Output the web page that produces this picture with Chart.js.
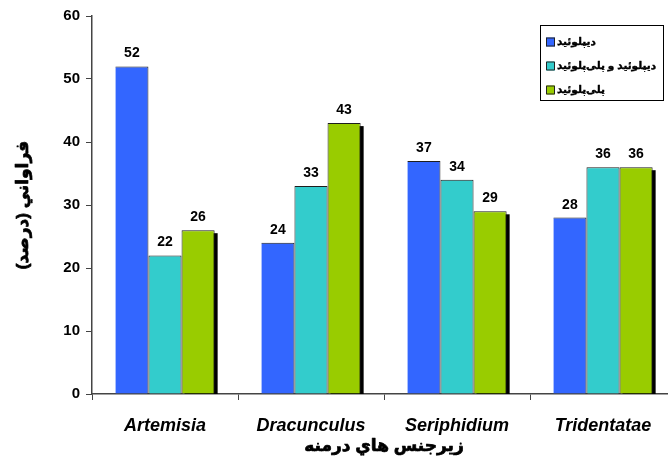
<!DOCTYPE html>
<html>
<head>
<meta charset="utf-8">
<script src="https://cdn.jsdelivr.net/npm/chart.js@4/dist/chart.umd.min.js"></script>
<style>
  html, body { margin: 0; padding: 0; background: #fff; overflow: hidden; width: 668px; height: 467px; }
  #wrap { width: 700px; height: 467px; position: relative; }
</style>
</head>
<body>
<div id="wrap"><canvas id="c" width="700" height="467"></canvas></div>
<script>
// Subgenera and frequency (%) of each ploidy group
const categories = ['Artemisia', 'Dracunculus', 'Seriphidium', 'Tridentatae'];
const seriesNames = ['دیپلوئید', 'دیپلوئید و پلی‌پلوئید', 'پلی‌پلوئید'];
const diploid = [52, 24, 37, 28];
const diploidAndPolyploid = [22, 33, 34, 36];
const polyploid = [26, 43, 29, 36];
const yTickValues = [0, 10, 20, 30, 40, 50, 60];
const yTitle = 'فراواني (درصد)';
const xTitle = 'زيرجنس هاي درمنه';

const colors = ['#3366FF', '#33CCCC', '#99CC00'];
const FONT = "'Liberation Sans', Arial, 'DejaVu Sans', sans-serif";
const RLM = '\u200F';

// Heavier Persian text: fill plus a thin stroke of the same colour
function boldText(ctx, text, x, y, strokeW) {
  ctx.lineJoin = 'round';
  ctx.lineWidth = strokeW;
  ctx.strokeStyle = '#000';
  ctx.strokeText(text, x, y);
  ctx.fillText(text, x, y);
}

// Black drop shadow on the right-hand series
const barShadow = {
  id: 'barShadow',
  beforeDatasetsDraw(chart) {
    const { ctx, chartArea } = chart;
    const last = chart.data.datasets.length - 1;
    ctx.save();
    ctx.beginPath();
    ctx.rect(chartArea.left, chartArea.top, chartArea.right - chartArea.left, chartArea.bottom - chartArea.top);
    ctx.clip();
    ctx.fillStyle = '#000';
    chart.getDatasetMeta(last).data.forEach(bar => {
      const { x, y, base, width } = bar.getProps(['x', 'y', 'base', 'width'], true);
      const off = 3;
      ctx.fillRect(x - width / 2 + off, y + off, width, base - y);
    });
    ctx.restore();
  }
};

// Value labels above bars
const valueLabels = {
  id: 'valueLabels',
  afterDatasetsDraw(chart) {
    const { ctx } = chart;
    ctx.save();
    ctx.fillStyle = '#000';
    ctx.font = 'bold 14px ' + FONT;
    ctx.textAlign = 'center';
    ctx.textBaseline = 'alphabetic';
    chart.data.datasets.forEach((ds, i) => {
      chart.getDatasetMeta(i).data.forEach((bar, j) => {
        ctx.fillText(String(ds.data[j]), bar.x, bar.y - 9);
      });
    });
    ctx.restore();
  }
};

// Axis titles
const axisTitles = {
  id: 'axisTitles',
  afterDraw(chart) {
    const { ctx, chartArea } = chart;
    ctx.save();
    ctx.fillStyle = '#000';
    ctx.font = 'bold 17px ' + FONT;
    ctx.textAlign = 'center';
    ctx.textBaseline = 'middle';
    boldText(ctx, RLM + xTitle + RLM, (chartArea.left + chartArea.right) / 2, 446, 0.7);
    ctx.translate(23, (chartArea.top + chartArea.bottom) / 2);
    ctx.rotate(-Math.PI / 2);
    boldText(ctx, RLM + yTitle + RLM, 0, 0, 0.7);
    ctx.restore();
  }
};

// Framed legend in the upper right corner
const boxLegend = {
  id: 'boxLegend',
  afterDraw(chart) {
    const { ctx } = chart;
    const left = 540, top = 25, w = 123, h = 75;
    ctx.save();
    ctx.fillStyle = '#fff';
    ctx.fillRect(left, top, w, h);
    ctx.strokeStyle = '#000';
    ctx.lineWidth = 1;
    ctx.strokeRect(left + 0.5, top + 0.5, w, h);
    // size the text so the longest label fits inside the frame
    let size = 13;
    const maxW = w - 20;
    chart.data.datasets.forEach(ds => {
      ctx.font = 'bold ' + size + 'px ' + FONT;
      while (ctx.measureText(RLM + ds.label + RLM).width > maxW && size > 8) {
        size -= 0.5;
        ctx.font = 'bold ' + size + 'px ' + FONT;
      }
    });
    ctx.font = 'bold ' + size + 'px ' + FONT;
    ctx.textAlign = 'left';
    ctx.textBaseline = 'middle';
    chart.data.datasets.forEach((ds, i) => {
      const cy = top + 17 + i * 24;
      ctx.fillStyle = ds.backgroundColor;
      ctx.fillRect(left + 6, cy - 4.5, 9, 9);
      ctx.lineWidth = 1;
      ctx.strokeStyle = '#222';
      ctx.strokeRect(left + 6.5, cy - 4, 8, 8);
      ctx.fillStyle = '#000';
      boldText(ctx, RLM + ds.label + RLM, left + 17, cy, 0.4);
    });
    ctx.restore();
  }
};

const seriesData = [diploid, diploidAndPolyploid, polyploid];

new Chart(document.getElementById('c'), {
  type: 'bar',
  data: {
    labels: categories,
    datasets: seriesNames.map((name, i) => ({
      label: name,
      data: seriesData[i],
      backgroundColor: colors[i],
      borderColor: '#1e1e1e',
      borderWidth: { left: i === 0 ? 0 : 1, top: 1, right: 1, bottom: 0 },
      borderSkipped: false,
      categoryPercentage: 0.68,
      barPercentage: 1.0
    }))
  },
  options: {
    responsive: false,
    animation: false,
    devicePixelRatio: 1,
    layout: { padding: { top: 16, right: 24, left: 0, bottom: 0 } },
    plugins: {
      legend: { display: false },
      tooltip: { enabled: false }
    },
    scales: {
      x: {
        afterFit(scale) { scale.height = 73; },
        grid: { offset: true, drawOnChartArea: false, drawTicks: true, tickLength: 6, color: '#444' },
        border: { display: true, color: '#444', width: 1.5 },
        ticks: {
          color: '#000',
          padding: 15,
          font: { family: FONT, size: 18, weight: 'bold', style: 'italic' }
        }
      },
      y: {
        min: 0,
        max: 60,
        afterFit(scale) { scale.width = 92; },
        afterBuildTicks(scale) { scale.ticks = yTickValues.map(v => ({ value: v })); },
        grid: { drawOnChartArea: false, drawTicks: true, tickLength: 6, color: '#444' },
        border: { display: true, color: '#444', width: 1.5 },
        ticks: {
          color: '#000',
          padding: 6,
          font: { family: FONT, size: 15, weight: 'bold' }
        }
      }
    }
  },
  plugins: [barShadow, valueLabels, axisTitles, boxLegend]
});
</script>
</body>
</html>
